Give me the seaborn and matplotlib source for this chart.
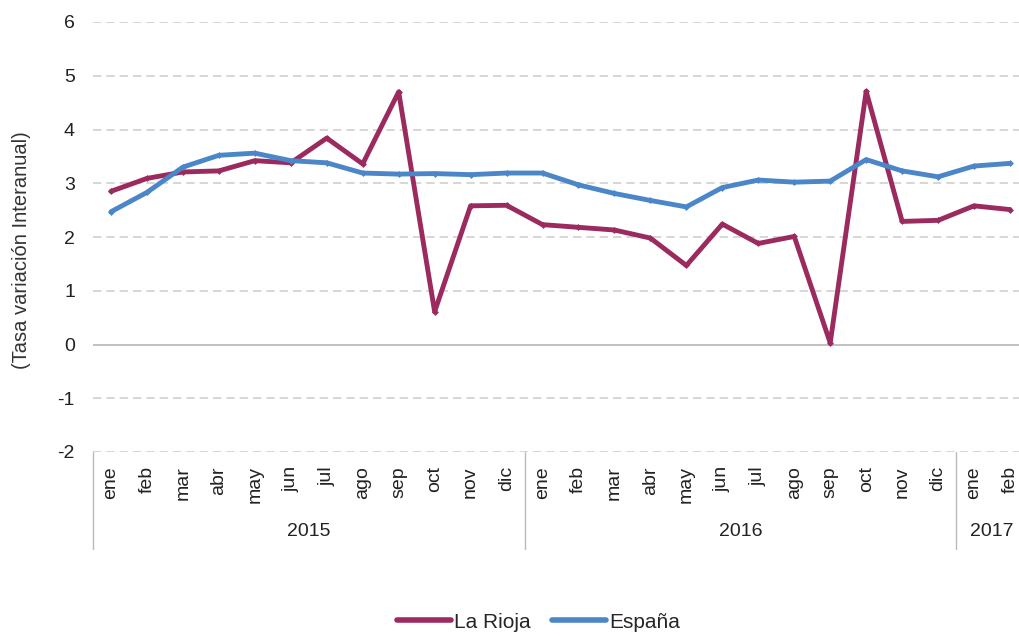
import pandas as pd
import matplotlib.pyplot as plt
import matplotlib.transforms as mtransforms
import seaborn as sns

sns.set_style("white")
plt.rcParams["font.family"] = ["Liberation Sans", "DejaVu Sans"]
plt.rcParams["axes.unicode_minus"] = False

months = ["ene", "feb", "mar", "abr", "may", "jun", "jul", "ago", "sep", "oct", "nov", "dic",
          "ene", "feb", "mar", "abr", "may", "jun", "jul", "ago", "sep", "oct", "nov", "dic",
          "ene", "feb"]
years = ["2015", "2016", "2017"]
year_lengths = [12, 12, 2]

la_rioja = [2.85, 3.09, 3.21, 3.23, 3.42, 3.38, 3.84, 3.36, 4.70, 0.61, 2.58, 2.59,
            2.23, 2.18, 2.13, 1.98, 1.47, 2.24, 1.88, 2.01, 0.03, 4.71, 2.29, 2.31,
            2.58, 2.51]
espana = [2.47, 2.83, 3.30, 3.52, 3.56, 3.42, 3.38, 3.19, 3.17, 3.18, 3.16, 3.19,
          3.19, 2.97, 2.81, 2.68, 2.56, 2.92, 3.06, 3.02, 3.04, 3.44, 3.23, 3.12,
          3.32, 3.37]

df = pd.DataFrame({
    "pos": list(range(len(months))) * 2,
    "valor": la_rioja + espana,
    "serie": ["La Rioja"] * len(months) + ["España"] * len(months),
})

colors = {"La Rioja": "#9b2a5f", "España": "#4a86c8"}

fig = plt.figure(figsize=(10.2, 6.36), dpi=100)
ax = fig.add_axes([93 / 1020, 1 - 452 / 636, 935 / 1020, 430 / 636])

sns.lineplot(data=df, x="pos", y="valor", hue="serie", palette=colors,
             linewidth=3.5, marker="D", markersize=3.5, markeredgewidth=0,
             ax=ax, legend=False)

ax.set_xlim(-0.5, len(months) - 0.5)
ax.set_ylim(-2, 6)
ax.set_yticks(range(-2, 7))
ax.tick_params(axis="y", labelsize=14, colors="#222222", length=0, pad=13)
ax.set_xticks([])
ax.set_xlabel("")
ax.set_ylabel("(Tasa variación Interanual)", fontsize=14.5, color="#333333")
ax.yaxis.set_label_coords(-0.066, 0.47)

for s in ax.spines.values():
    s.set_visible(False)

for v in range(-2, 7):
    if v == 0:
        ax.axhline(v, color="#bbbbbb", linewidth=1.3, zorder=0)
    else:
        ax.axhline(v, color="#cfcfcf", linewidth=1.2, linestyle=(0, (5, 3)), zorder=0)

# category axis: months and years
trans = mtransforms.blended_transform_factory(ax.transData, ax.transAxes)
for i, m in enumerate(months):
    ax.text(i, -0.033, m, transform=trans, rotation=90, ha="center", va="top",
            fontsize=14, color="#222222")

start = 0
bounds = [-0.5]
for y, n in zip(years, year_lengths):
    center = start + n / 2 - 0.5
    ax.text(center, -0.186, y, transform=trans, ha="center", va="center",
            fontsize=14, color="#222222")
    start += n
    bounds.append(start - 0.5)

for b in bounds[:-1]:
    ax.plot([b, b], [0, -0.225], transform=trans, color="#bbbbbb",
            linewidth=1, clip_on=False)

handles = [plt.Line2D([], [], color=colors[k], linewidth=4) for k in colors]
fig.legend(handles, list(colors.keys()), loc="center", ncol=2,
           bbox_to_anchor=(0.528, 0.022), frameon=False, fontsize=15,
           handlelength=2.6, columnspacing=1.0, handletextpad=0.15)

fig.savefig("out.png", dpi=100)
